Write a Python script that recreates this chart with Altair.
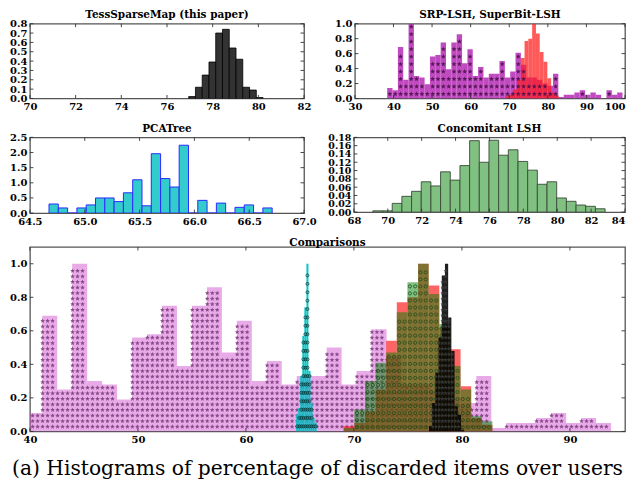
import altair as alt
import pandas as pd
import numpy as np
import math

# ---------------- data ----------------
tess_start = 76.95
tess_width = 0.296
tess_density = [0.02, 0.12, 0.25, 0.39, 0.70, 0.74, 0.54, 0.42, 0.12, 0.09, 0.01]

srp_start = 38.37
srp_width = 1.386
srp_heights = [0.14, 0.11, 0.69, 0.25, 1.00, 0.30, 0.28, 0.19, 0.56, 0.58,
               0.75, 0.39, 0.75, 0.86, 0.47, 0.66, 0.30, 0.42, 0.28, 0.33,
               0.33, 0.50, 0.28, 0.36, 0.61, 0.45, 0.28, 0.28, 0.25, 0.20,
               0.17, 0.33, 0.02, 0.05, 0.05, 0.08, 0.11, 0.05, 0.08, 0.05,
               0.00, 0.11, 0.05, 0.08]

superbit_start = 69.05
superbit_width = 0.984
superbit_heights = [0.03, 0.05, 0.12, 0.25, 0.54, 0.77, 0.80, 1.00, 0.87, 0.62,
                    0.49, 0.27, 0.08, 0.04]

pca_start = 64.674
pca_width = 0.0848
pca_density = [0.30, 0.17, 0.00, 0.17, 0.27, 0.50, 0.50, 0.38, 0.67, 1.10,
               0.24, 1.96, 1.14, 0.86, 2.24, 0.00, 0.42, 0.00, 0.33, 0.00,
               0.19, 0.27, 0.00, 0.17]

conc_start = 69.12
conc_width = 0.571
conc_density = [0.003, 0.003, 0.021, 0.038, 0.050, 0.073, 0.063, 0.097, 0.077, 0.112,
                0.172, 0.120, 0.173, 0.137, 0.150, 0.122, 0.101, 0.067, 0.073, 0.034,
                0.026, 0.017, 0.014, 0.008]

comp_pca_start = 64.65
comp_pca_width = 0.19
comp_pca_heights = [0.10, 0.14, 0.33, 0.57, 0.74, 1.00, 0.36, 0.17, 0.08, 0.05]

comp_conc_start = 69.05
comp_conc_width = 0.984
comp_conc_heights = [0.02, 0.13, 0.30, 0.41, 0.47, 0.71, 0.89, 1.00, 0.82, 0.64,
                     0.39, 0.25, 0.09, 0.06]

comp_tess_heights = [0.03, 0.17, 0.35, 0.56, 0.93, 1.00, 0.68, 0.48, 0.15, 0.10, 0.01]

titles = ["TessSparseMap (this paper)", "SRP-LSH, SuperBit-LSH", "PCATree",
          "Concomitant LSH", "Comparisons"]
caption = "(a) Histograms of percentage of discarded items over users"

p1_xticks = [70, 72, 74, 76, 78, 80, 82]
p1_yticks = [0.0, 0.1, 0.2, 0.3, 0.4, 0.5, 0.6, 0.7, 0.8]
p2_xticks = [30, 40, 50, 60, 70, 80, 90, 100]
p2_yticks = [0.0, 0.2, 0.4, 0.6, 0.8, 1.0]
p3_xticks = [64.5, 65.0, 65.5, 66.0, 66.5, 67.0]
p3_yticks = [0.0, 0.5, 1.0, 1.5, 2.0, 2.5]
p4_xticks = [68, 70, 72, 74, 76, 78, 80, 82, 84]
p4_yticks = [0.00, 0.02, 0.04, 0.06, 0.08, 0.10, 0.12, 0.14, 0.16, 0.18]
p5_xticks = [40, 50, 60, 70, 80, 90]
p5_yticks = [0.0, 0.2, 0.4, 0.6, 0.8, 1.0]

FONT = "DejaVu Serif"

# custom star symbol path (unit box -1..1)
_star = []
for i in range(10):
    r = 1.0 if i % 2 == 0 else 0.45
    a = math.radians(-90 + 36 * i)
    _star.append("%s%.3f,%.3f" % ("M" if i == 0 else "L", r * math.cos(a), r * math.sin(a)))
STAR = " ".join(_star) + " Z"


def hist_df(start, width, heights):
    n = len(heights)
    x0 = [round(start + i * width, 4) for i in range(n)]
    x1 = [round(start + (i + 1) * width, 4) for i in range(n)]
    return pd.DataFrame({"x0": x0, "x1": x1, "h": heights, "z": [0.0] * n})


def hatch(df, xs, ys, margin):
    pts = []
    for x in xs:
        x = float(x)
        row = df[(df.x0 <= x) & (df.x1 > x)]
        if row.empty:
            continue
        h = float(row.h.iloc[0])
        for y in ys:
            y = float(y)
            if y < h - margin:
                pts.append((round(x, 3), round(y, 4)))
    return pd.DataFrame(pts, columns=["x", "y"])


def axis(vals, fmt, size=10, align=None):
    kw = dict(values=vals, format=fmt, title=None, labelFont=FONT,
              labelFontWeight="bold", labelFontSize=size, labelColor="black",
              ticks=False, domain=False, grid=False, labelPadding=3,
              labelFlush=False, labelOverlap=False)
    if align is not None:
        kw["labelAlign"] = alt.ExprRef(expr=align)
    return alt.Axis(**kw)


def bars(df, xs, ys, xa, ya, fill, opacity=1.0, stroke=None, sw=0.0):
    if stroke is not None:
        m = alt.Chart(df).mark_rect(fill=fill, opacity=opacity, clip=True,
                                    stroke=stroke, strokeWidth=sw)
    else:
        m = alt.Chart(df).mark_rect(fill=fill, opacity=opacity, clip=True)
    return m.encode(
        x=alt.X("x0:Q", scale=xs, axis=xa),
        x2="x1",
        y=alt.Y("h:Q", scale=ys, axis=ya),
        y2="z",
    )


def pts(df, xs, ys, xa, ya, shape, color, size, filled=True, opacity=1.0, sw=0.7):
    return alt.Chart(df).mark_point(shape=shape, filled=filled, size=size,
                                    color=color, opacity=opacity, strokeWidth=sw,
                                    clip=True).encode(
        x=alt.X("x:Q", scale=xs, axis=xa),
        y=alt.Y("y:Q", scale=ys, axis=ya),
    )


def inticks(xvals, yvals, xs, ys, xa, ya, w, h, L=3.5):
    tx = pd.DataFrame({"t": xvals})
    ty = pd.DataFrame({"t": yvals})
    rx = alt.Chart(tx).mark_rule(color="#333333", strokeWidth=0.9)
    ry = alt.Chart(ty).mark_rule(color="#333333", strokeWidth=0.9)
    return [
        rx.encode(x=alt.X("t:Q", scale=xs, axis=xa), y=alt.value(h), y2=alt.value(h - L)),
        rx.encode(x=alt.X("t:Q", scale=xs, axis=xa), y=alt.value(0), y2=alt.value(L)),
        ry.encode(y=alt.Y("t:Q", scale=ys, axis=ya), x=alt.value(0), x2=alt.value(L)),
        ry.encode(y=alt.Y("t:Q", scale=ys, axis=ya), x=alt.value(w - L), x2=alt.value(w)),
    ]


def ttl(t):
    return alt.TitleParams(t, font=FONT, fontWeight="bold", fontSize=10.5,
                           color="black", offset=-2)


tess_df = hist_df(tess_start, tess_width, tess_density)
srp_df = hist_df(srp_start, srp_width, srp_heights)
sb_df = hist_df(superbit_start, superbit_width, superbit_heights)
pca_df = hist_df(pca_start, pca_width, pca_density)
conc_df = hist_df(conc_start, conc_width, conc_density)
cpca_df = hist_df(comp_pca_start, comp_pca_width, comp_pca_heights)
cconc_df = hist_df(comp_conc_start, comp_conc_width, comp_conc_heights)
ctess_df = hist_df(tess_start, tess_width, comp_tess_heights)

# ---- panel 1 ----
W1, H1 = 275, 75
xs1 = alt.Scale(domain=[70, 82], nice=False, zero=False)
ys1 = alt.Scale(domain=[0, 0.8], nice=False)
xa1 = axis(p1_xticks, "d")
ya1 = axis(p1_yticks, ".1f")
p1 = alt.layer(
    bars(tess_df, xs1, ys1, xa1, ya1, "#333333", 1.0, "#000000", 0.8),
    *inticks(p1_xticks, p1_yticks, xs1, ys1, xa1, ya1, W1, H1),
).properties(width=W1, height=H1, title=ttl(titles[0]))

# ---- panel 2 ----
W2, H2 = 271, 75
xs2 = alt.Scale(domain=[30, 100], nice=False, zero=False)
ys2 = alt.Scale(domain=[0, 1.0], nice=False)
xa2 = axis(p2_xticks, "d", align="datum.value == 100 ? 'right' : 'center'")
ya2 = axis(p2_yticks, ".1f")
srp_centers = [(a + b) / 2 for a, b in zip(srp_df.x0, srp_df.x1)]
srp_stars = hatch(srp_df, srp_centers, np.arange(0.06, 1.0, 0.1), 0.03)
p2 = alt.layer(
    bars(srp_df, xs2, ys2, xa2, ya2, "#b52ab5", 0.85),
    bars(sb_df, xs2, ys2, xa2, ya2, "#ff1a1a", 0.72),
    pts(srp_stars, xs2, ys2, xa2, ya2, STAR, "#4a0f4a", 26, True, 0.85),
    *inticks(p2_xticks, p2_yticks, xs2, ys2, xa2, ya2, W2, H2),
).properties(width=W2, height=H2, title=ttl(titles[1]))

# ---- panel 3 ----
W3, H3 = 275, 76
xs3 = alt.Scale(domain=[64.5, 67.0], nice=False, zero=False)
ys3 = alt.Scale(domain=[0, 2.5], nice=False)
xa3 = axis(p3_xticks, ".1f")
ya3 = axis(p3_yticks, ".1f")
p3 = alt.layer(
    bars(pca_df, xs3, ys3, xa3, ya3, "#33cccc", 1.0, "#2a2aff", 1.0),
    *inticks(p3_xticks, p3_yticks, xs3, ys3, xa3, ya3, W3, H3),
).properties(width=W3, height=H3, title=ttl(titles[2]))

# ---- panel 4 ----
W4, H4 = 272, 75
xs4 = alt.Scale(domain=[68, 84], nice=False, zero=False)
ys4 = alt.Scale(domain=[0, 0.18], nice=False)
xa4 = axis(p4_xticks, "d", align="datum.value == 84 ? 'right' : 'center'")
ya4 = axis(p4_yticks, ".2f", size=9.5)
p4 = alt.layer(
    bars(conc_df, xs4, ys4, xa4, ya4, "#80c080", 1.0, "#3a4a3a", 0.9),
    *inticks(p4_xticks, p4_yticks, xs4, ys4, xa4, ya4, W4, H4),
).properties(width=W4, height=H4, title=ttl(titles[3]))

# ---- panel 5 (comparisons) ----
W5, H5 = 597, 185
xs5 = alt.Scale(domain=[40, 95.1], nice=False, zero=False)
ys5 = alt.Scale(domain=[0, 1.1], nice=False)
xa5 = axis(p5_xticks, "d")
ya5 = axis(p5_yticks, ".1f")
grid_x = np.arange(40.25, 95.1, 0.462)
grid_y = np.arange(0.028, 1.1, 0.0332)
purple_stars = hatch(srp_df, grid_x, grid_y, 0.012)
cyan_rings = hatch(cpca_df, np.arange(64.75, 66.7, 0.19), np.arange(0.03, 1.1, 0.05), 0.02)
green_rings = hatch(cconc_df, np.arange(69.3, 83.0, 0.49), np.arange(0.025, 1.1, 0.042), 0.02)
black_stars = hatch(ctess_df, np.arange(77.0, 80.3, 0.3), grid_y, 0.012)

p5 = alt.layer(
    bars(srp_df, xs5, ys5, xa5, ya5, "#cc44cc", 0.45),
    pts(purple_stars, xs5, ys5, xa5, ya5, STAR, "#7a3a7a", 24, True, 0.85),
    bars(cpca_df, xs5, ys5, xa5, ya5, "#00c4c4", 0.95),
    pts(cyan_rings, xs5, ys5, xa5, ya5, "circle", "#063a3a", 9, False, 0.9, 0.9),
    bars(sb_df, xs5, ys5, xa5, ya5, "#ff1a1a", 0.68),
    bars(cconc_df, xs5, ys5, xa5, ya5, "#008000", 0.5),
    pts(green_rings, xs5, ys5, xa5, ya5, "circle", "#1a4a1a", 10, False, 0.85, 0.9),
    bars(ctess_df, xs5, ys5, xa5, ya5, "#000000", 0.88),
    pts(black_stars, xs5, ys5, xa5, ya5, STAR, "#3a3a3a", 20, True, 0.9),
    *inticks(p5_xticks, p5_yticks, xs5, ys5, xa5, ya5, W5, H5),
).properties(width=W5, height=H5, title=ttl(titles[4]))

row1 = alt.hconcat(p1, p2, spacing=21)
row2 = alt.hconcat(p3, p4, spacing=10)

chart = alt.vconcat(row1, row2, p5, spacing=10).properties(
    padding=0,
    title=alt.TitleParams(caption, orient="bottom", anchor="middle", font=FONT,
                          fontWeight="normal", fontSize=20.3, color="black", offset=14),
).configure_view(stroke="#555555", strokeWidth=1.3)

chart.save("out.html", embed_options={"renderer": "svg", "actions": False})
